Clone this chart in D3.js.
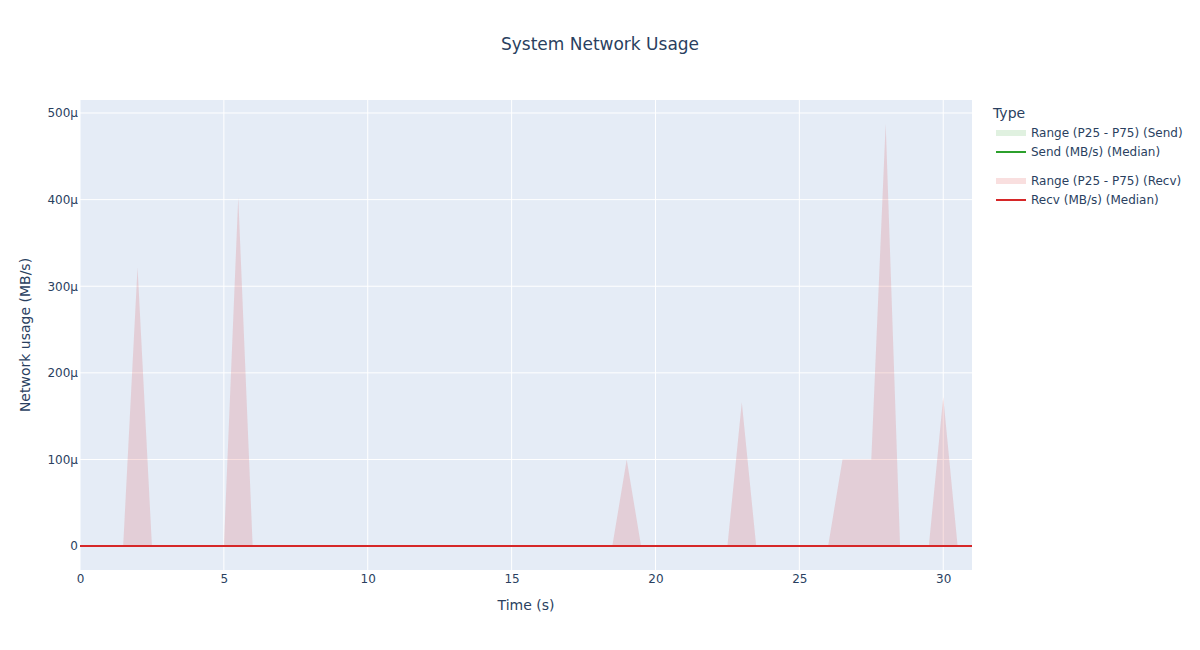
<!DOCTYPE html>
<html>
<head>
<meta charset="utf-8">
<script src="https://cdn.jsdelivr.net/npm/d3@7"></script>
<style>
  html, body { margin: 0; padding: 0; background: #fff; }
  svg { display: block; }
  text { font-family: "DejaVu Sans", Verdana, sans-serif; fill: #2a3f5f; }
</style>
</head>
<body>
<svg id="chart" width="1200" height="650"></svg>
<script>
// ---- data ----
const timeS = [0,0.5,1,1.5,2,2.5,3,3.5,4,4.5,5,5.5,6,6.5,7,7.5,8,8.5,9,9.5,10,10.5,11,11.5,12,12.5,13,13.5,14,14.5,15,15.5,16,16.5,17,17.5,18,18.5,19,19.5,20,20.5,21,21.5,22,22.5,23,23.5,24,24.5,25,25.5,26,26.5,27,27.5,28,28.5,29,29.5,30,30.5,31];
const sendP25 = new Array(timeS.length).fill(0);
const sendP75 = new Array(timeS.length).fill(0);
const sendMedian = new Array(timeS.length).fill(0);
const recvP25 = new Array(timeS.length).fill(0);
const recvP75 = [0,0,0,0,322e-6,0,0,0,0,0,0,403e-6,0,0,0,0,0,0,0,0,0,0,0,0,0,0,0,0,0,0,0,0,0,0,0,0,0,0,100e-6,0,0,0,0,0,0,0,166e-6,0,0,0,0,0,0,100e-6,100e-6,100e-6,488e-6,0,0,0,172e-6,0,0];
const recvMedian = new Array(timeS.length).fill(0);
const xTicks = [0,5,10,15,20,25,30];
const yTicks = [0,100e-6,200e-6,300e-6,400e-6,500e-6];
const legendItems = [
  {label: "Range (P25 - P75) (Send)", kind: "band", color: "rgba(44,160,44,0.15)"},
  {label: "Send (MB/s) (Median)", kind: "line", color: "#2ca02c"},
  {label: "Range (P25 - P75) (Recv)", kind: "band", color: "rgba(214,39,40,0.15)"},
  {label: "Recv (MB/s) (Median)", kind: "line", color: "#d62728"}
];

// ---- layout ----
const L = 80, R = 972, T = 100, B = 570;
const svg = d3.select("#chart");
const x = d3.scaleLinear().domain([0, 31]).range([L, R]);
const y = d3.scaleLinear().domain([-27.6e-6, 515e-6]).range([B, T]);

svg.append("rect").attr("x", L).attr("y", T).attr("width", R - L).attr("height", B - T).attr("fill", "#E5ECF6");

// grid
const g = svg.append("g");
g.selectAll(".xg").data(xTicks).enter().append("line")
  .attr("x1", d => x(d)).attr("x2", d => x(d)).attr("y1", T).attr("y2", B)
  .attr("stroke", "#fff").attr("stroke-width", 1);
g.selectAll(".yg").data(yTicks.filter(d => d !== 0)).enter().append("line")
  .attr("x1", L).attr("x2", R).attr("y1", d => y(d)).attr("y2", d => y(d))
  .attr("stroke", "#fff").attr("stroke-width", 1);
g.append("line").attr("x1", L).attr("x2", R).attr("y1", y(0)).attr("y2", y(0))
  .attr("stroke", "#fff").attr("stroke-width", 2);

svg.append("defs").append("clipPath").attr("id", "clip")
  .append("rect").attr("x", L - 2).attr("y", T).attr("width", R - L + 2).attr("height", B - T);
const plot = svg.append("g").attr("clip-path", "url(#clip)");

function band(lo, hi, color) {
  const area = d3.area().x((d, i) => x(timeS[i])).y0((d, i) => y(lo[i])).y1((d, i) => y(hi[i]));
  plot.append("path").datum(hi).attr("d", area).attr("fill", color).attr("stroke", "none");
}
function line(vals, color) {
  const ln = d3.line().x((d, i) => x(timeS[i])).y(d => y(d));
  plot.append("path").datum(vals).attr("d", ln).attr("fill", "none").attr("stroke", color).attr("stroke-width", 2);
}
band(sendP25, sendP75, "rgba(44,160,44,0.15)");
line(sendMedian, "#2ca02c");
band(recvP25, recvP75, "rgba(214,39,40,0.15)");
line(recvMedian, "#d62728");

// axes
const fmtY = v => v === 0 ? "0" : Math.round(v * 1e6) + "μ";
const xAxis = svg.append("g").attr("transform", `translate(0,${B})`)
  .call(d3.axisBottom(x).tickValues(xTicks).tickSize(0).tickPadding(4));
xAxis.select(".domain").remove();
xAxis.selectAll("text").attr("font-size", 12).attr("fill", "#2a3f5f").style("font-family", "DejaVu Sans");

const yAxis = svg.append("g").attr("transform", `translate(${L},0)`)
  .call(d3.axisLeft(y).tickValues(yTicks).tickFormat(fmtY).tickSize(0).tickPadding(2));
yAxis.select(".domain").remove();
yAxis.selectAll("text").attr("font-size", 12).attr("fill", "#2a3f5f").style("font-family", "DejaVu Sans");

// titles
svg.append("text").attr("x", 600).attr("y", 50).attr("text-anchor", "middle").attr("font-size", 17).text("System Network Usage");
svg.append("text").attr("x", 526).attr("y", 610).attr("text-anchor", "middle").attr("font-size", 14).text("Time (s)");
svg.append("text").attr("transform", `translate(30,${(T + B) / 2}) rotate(-90)`).attr("text-anchor", "middle").attr("font-size", 14).text("Network usage (MB/s)");

// legend
const lg = svg.append("g");
lg.append("text").attr("x", 993).attr("y", 118).attr("font-size", 14).text("Type");
const legY = [133, 152, 181, 200];
legendItems.forEach((it, i) => {
  const yy = legY[i];
  if (it.kind === "band") {
    lg.append("rect").attr("x", 996).attr("y", yy - 3).attr("width", 30).attr("height", 6).attr("fill", it.color);
  } else {
    lg.append("line").attr("x1", 996).attr("x2", 1026).attr("y1", yy).attr("y2", yy).attr("stroke", it.color).attr("stroke-width", 2);
  }
  lg.append("text").attr("x", 1031).attr("y", yy + 4).attr("font-size", 12).text(it.label);
});
</script>
</body>
</html>
